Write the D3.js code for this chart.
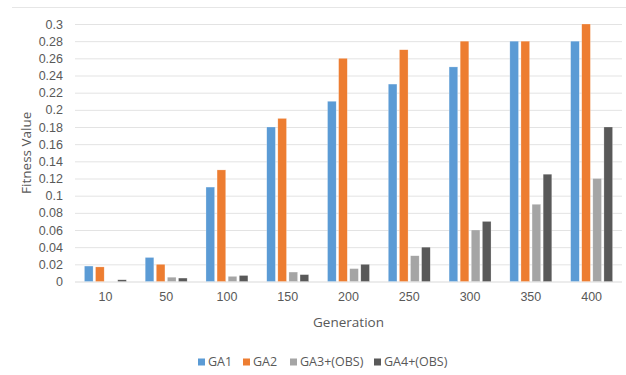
<!DOCTYPE html>
<html>
<head>
<meta charset="utf-8">
<script src="https://cdn.jsdelivr.net/npm/d3@7"></script>
<style>
  html, body { margin: 0; padding: 0; background: #fff; }
  svg { display: block; font-family: "Open Sans", "Noto Sans", sans-serif; }
</style>
</head>
<body>
<svg id="chart" width="626" height="375"></svg>
<script>
const categories = ["10", "50", "100", "150", "200", "250", "300", "350", "400"];
const seriesNames = ["GA1", "GA2", "GA3+(OBS)", "GA4+(OBS)"];
const ga1 = [0.018, 0.028, 0.11, 0.18, 0.21, 0.23, 0.25, 0.28, 0.28];
const ga2 = [0.017, 0.020, 0.13, 0.19, 0.26, 0.27, 0.28, 0.28, 0.30];
const ga3 = [0.000, 0.005, 0.006, 0.011, 0.015, 0.030, 0.060, 0.090, 0.120];
const ga4 = [0.002, 0.004, 0.007, 0.008, 0.020, 0.040, 0.070, 0.125, 0.180];
const yTicks = [0, 0.02, 0.04, 0.06, 0.08, 0.1, 0.12, 0.14, 0.16, 0.18, 0.2, 0.22, 0.24, 0.26, 0.28, 0.3];
const colors = ["#5B9BD5", "#ED7D31", "#A5A5A5", "#595959"];

const seriesValues = [ga1, ga2, ga3, ga4];
const svg = d3.select("#chart");
const m = { left: 75, right: 4, top: 24, bottom: 93 };
const W = 626, H = 375;

// top frame line
svg.append("line").attr("x1", 12).attr("x2", 626).attr("y1", 7.5).attr("y2", 7.5)
  .attr("stroke", "#e6e6e6").attr("stroke-width", 1);

const x = d3.scaleBand().domain(categories).range([m.left, W - m.right]).paddingInner(0.31).paddingOuter(0.155);
const xs = d3.scaleBand().domain(seriesNames).range([0, x.bandwidth()]).paddingInner(0.22);
const y = d3.scaleLinear().domain([0, 0.3]).range([H - m.bottom - 0.5, m.top]);

// gridlines
const yAxis = d3.axisLeft(y).tickValues(yTicks).tickSize(-(W - m.right - m.left))
  .tickFormat(d => d3.format("~g")(+d.toFixed(2))).tickPadding(12);
const gy = svg.append("g").attr("transform", `translate(${m.left},0)`).call(yAxis);
gy.select(".domain").remove();
gy.selectAll(".tick line").attr("stroke", "#e3e3e3").attr("stroke-width", 1);
gy.selectAll(".tick").filter(d => d === 0).select("line").attr("stroke", "#d9d9d9");
gy.selectAll(".tick text").attr("fill", "#595959").attr("font-size", 12.5);

// bars
const groups = svg.append("g").selectAll("g").data(categories).join("g")
  .attr("transform", d => `translate(${x(d)},0)`);
groups.selectAll("rect").data((c, i) => seriesNames.map((s, j) => ({ s, j, v: seriesValues[j][i] })))
  .join("rect")
  .attr("x", d => xs(d.s))
  .attr("width", xs.bandwidth())
  .attr("y", d => y(d.v))
  .attr("height", d => y(0) - y(d.v))
  .attr("fill", d => colors[d.j])
  .attr("stroke", "#ffffff").attr("stroke-opacity", 0.5).attr("stroke-width", 0.5);

// x axis labels
const xAxis = d3.axisBottom(x).tickSize(0).tickPadding(11);
const gx = svg.append("g").attr("transform", `translate(0,${y(0)})`).call(xAxis);
gx.select(".domain").remove();
gx.selectAll(".tick text").attr("fill", "#595959").attr("font-size", 12.5);

// axis titles
svg.append("text").attr("x", (m.left + W - m.right) / 2).attr("y", 327)
  .attr("text-anchor", "middle").attr("fill", "#595959").attr("font-size", 13.5).text("Generation");
svg.append("text").attr("transform", `translate(31,${(y(0) + y(0.3)) / 2}) rotate(-90)`)
  .attr("text-anchor", "middle").attr("fill", "#595959").attr("font-size", 13.5).text("Fitness Value");

// legend
const legendX = [198, 243, 290, 374];
const lg = svg.append("g").selectAll("g").data(seriesNames).join("g")
  .attr("transform", (d, i) => `translate(${legendX[i]},362)`);
lg.append("rect").attr("x", 0).attr("y", -3.5).attr("width", 7).attr("height", 7)
  .attr("fill", (d, i) => colors[i]);
lg.append("text").attr("x", 10).attr("y", 0).attr("dy", "0.35em")
  .attr("fill", "#595959").attr("font-size", 12.5).text(d => d);
</script>
</body>
</html>
